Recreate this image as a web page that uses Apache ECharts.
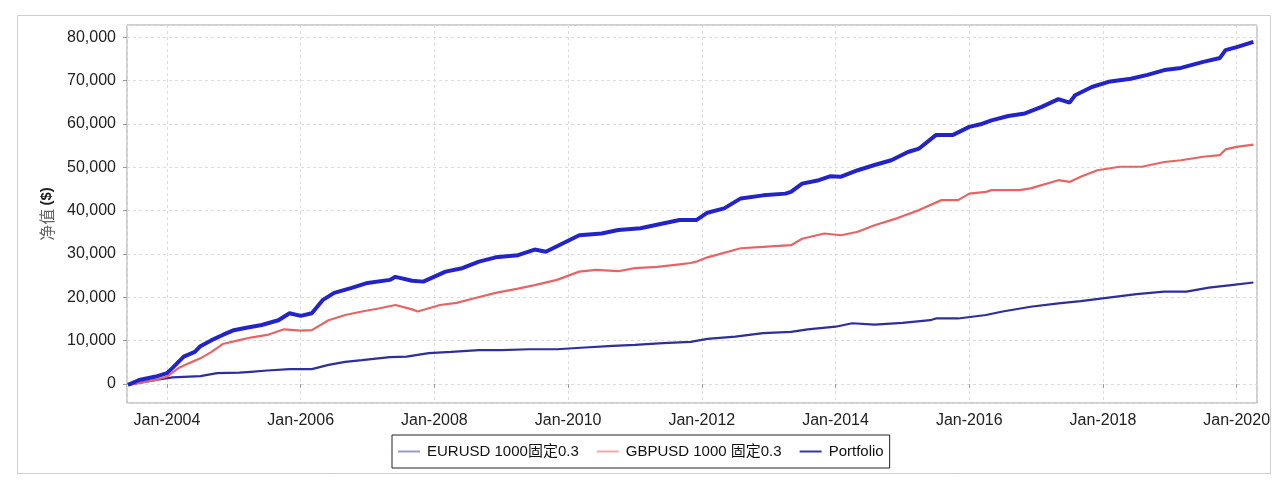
<!DOCTYPE html>
<html>
<head>
<meta charset="utf-8">
<script src="https://cdn.jsdelivr.net/npm/echarts@6/dist/echarts.min.js"></script>
<style>
html,body{margin:0;padding:0;background:#fff;}
#chart{width:1280px;height:494px;}
</style>
</head>
<body>
<div id="chart"></div>
<script>
// ---- data (month, net value $) ----
const seriesNames = ['EURUSD 1000固定0.3', 'GBPUSD 1000 固定0.3', 'Portfolio'];
const yAxisTitleCn = '净值';
const yAxisTitleUnit = '($)';
const xLabelPrefix = 'Jan-';

const eurusd = [
  ['2003-06',-200],['2003-11',900],['2004-02',1500],['2004-07',1800],['2004-10',2500],
  ['2005-02',2600],['2005-04',2800],['2005-07',3100],['2005-11',3400],['2006-03',3400],
  ['2006-06',4400],['2006-09',5100],['2006-12',5500],['2007-05',6200],['2007-08',6300],
  ['2007-10',6700],['2007-12',7100],['2008-04',7400],['2008-09',7800],['2009-01',7800],
  ['2009-06',8000],['2009-11',8000],['2010-04',8400],['2010-09',8800],['2011-01',9000],
  ['2011-06',9400],['2011-11',9700],['2012-02',10400],['2012-07',10900],['2012-12',11700],
  ['2013-05',12000],['2013-08',12600],['2014-01',13200],['2014-04',14000],['2014-08',13700],
  ['2015-01',14100],['2015-06',14700],['2015-07',15100],['2015-11',15100],['2016-04',15900],
  ['2016-07',16700],['2016-12',17800],['2017-05',18600],['2017-09',19100],['2018-02',19900],
  ['2018-07',20700],['2018-12',21300],['2019-04',21300],['2019-08',22200],['2019-12',22800],
  ['2020-04',23400]
];

const gbpusd = [
  ['2003-06',-200],['2003-11',900],['2004-01',1700],['2004-03',3600],['2004-05',4800],
  ['2004-07',5900],['2004-09',7400],['2004-11',9200],['2005-02',10100],['2005-04',10700],
  ['2005-07',11300],['2005-10',12600],['2006-01',12300],['2006-03',12400],['2006-06',14700],
  ['2006-09',15900],['2006-12',16700],['2007-03',17400],['2007-06',18200],['2007-09',17200],
  ['2007-10',16700],['2008-02',18200],['2008-05',18700],['2008-08',19700],['2008-12',21000],
  ['2009-04',22000],['2009-07',22800],['2009-11',24000],['2010-03',25900],['2010-06',26300],
  ['2010-10',26000],['2011-01',26700],['2011-05',27000],['2011-09',27600],['2011-11',27900],
  ['2011-12',28200],['2012-02',29200],['2012-08',31300],['2012-12',31600],['2013-05',32000],
  ['2013-07',33500],['2013-11',34700],['2014-02',34300],['2014-05',35100],['2014-08',36600],
  ['2014-12',38200],['2015-04',40100],['2015-08',42400],['2015-11',42400],['2016-01',43900],
  ['2016-04',44300],['2016-05',44700],['2016-10',44700],['2016-12',45100],['2017-05',47000],
  ['2017-07',46600],['2017-09',47800],['2017-12',49300],['2018-04',50100],['2018-08',50100],
  ['2018-12',51200],['2019-03',51600],['2019-07',52400],['2019-10',52800],['2019-11',54100],
  ['2020-01',54700],['2020-04',55200]
];

const portfolio = [
  ['2003-06',-200],['2003-08',900],['2003-11',1700],['2004-01',2500],['2004-02',3700],
  ['2004-04',6300],['2004-06',7400],['2004-07',8700],['2004-09',10100],['2004-11',11300],
  ['2005-01',12400],['2005-03',12900],['2005-06',13600],['2005-09',14700],['2005-11',16300],
  ['2006-01',15700],['2006-03',16300],['2006-05',19400],['2006-07',21000],['2006-10',22100],
  ['2007-01',23300],['2007-05',24000],['2007-06',24700],['2007-09',23800],['2007-11',23600],
  ['2008-03',25900],['2008-06',26700],['2008-09',28200],['2008-12',29200],['2009-04',29700],
  ['2009-07',31000],['2009-09',30500],['2009-12',32400],['2010-03',34300],['2010-07',34700],
  ['2010-10',35500],['2011-02',35900],['2011-06',37000],['2011-09',37800],['2011-12',37800],
  ['2012-02',39500],['2012-05',40500],['2012-08',42800],['2012-12',43500],['2013-04',43900],
  ['2013-05',44300],['2013-07',46200],['2013-10',47000],['2013-12',47900],['2014-02',47800],
  ['2014-05',49300],['2014-08',50500],['2014-11',51600],['2015-02',53500],['2015-04',54300],
  ['2015-07',57400],['2015-10',57400],['2016-01',59300],['2016-03',59900],['2016-05',60800],
  ['2016-08',61800],['2016-11',62400],['2017-02',63900],['2017-05',65700],['2017-07',64900],
  ['2017-08',66600],['2017-11',68500],['2018-02',69700],['2018-06',70400],['2018-09',71300],
  ['2018-12',72400],['2019-03',72900],['2019-07',74300],['2019-10',75200],['2019-11',77000],
  ['2020-01',77700],['2020-04',78900]
];

// ---- helpers ----
function toYear(s){ const p = s.split('-'); return +p[0] + (+p[1]-1)/12; }
function prep(arr){ return arr.map(d => [toYear(d[0]), d[1]]); }

const chart = echarts.init(document.getElementById('chart'), null, {renderer:'canvas'});
const labelFont = 'Liberation Sans, Arial, sans-serif';

chart.setOption({
  backgroundColor: '#ffffff',
  animation: false,
  graphic: [{
    type: 'rect', left: 15, top: 13, z: -10,
    shape: {width: 1253, height: 458},
    style: {fill: 'none', stroke: '#cfcfcf', lineWidth: 1}
  }],
  grid: {
    left: 127, right: 23, top: 25, bottom: 91,
    show: true, borderColor: '#a0a0a0', borderWidth: 1, backgroundColor: '#fff'
  },
  legend: {
    left: 392, top: 435,
    padding: [9, 6, 9, 6],
    borderColor: '#222', borderWidth: 1,
    itemWidth: 22, itemHeight: 10, itemGap: 18,
    icon: 'path://M0,4 L22,4 L22,6 L0,6 Z',
    textStyle: {fontFamily: 'Liberation Sans, Arial, "Noto Sans CJK SC", sans-serif', fontSize: 15, color: '#111', padding: [0, 0, 0, 2]},
    data: [
      {name: seriesNames[0], itemStyle: {color: '#9a9ac4'}},
      {name: seriesNames[1], itemStyle: {color: '#f2a8a8'}},
      {name: seriesNames[2], itemStyle: {color: '#3535b0'}}
    ]
  },
  xAxis: {
    type: 'value',
    min: 2003.402, max: 2020.304,
    minInterval: 2, maxInterval: 2,
    axisLine: {show: false},
    axisTick: {show: true, length: 4, lineStyle: {color: '#999'}},
    axisLabel: {
      showMinLabel: false, showMaxLabel: false,
      margin: 10, fontSize: 16, color: '#222', fontFamily: labelFont,
      formatter: v => xLabelPrefix + Math.round(v)
    },
    splitLine: {show: true, lineStyle: {color: '#dcdcdc', type: [3, 3]}}
  },
  yAxis: {
    type: 'value',
    min: -4400, max: 82800,
    minInterval: 10000, maxInterval: 10000,
    name: '{cn|' + yAxisTitleCn + '} {un|' + yAxisTitleUnit + '}',
    nameLocation: 'middle',
    nameGap: 72,
    nameTextStyle: {
      rich: {
        cn: {fontFamily: '"Noto Sans CJK SC", sans-serif', fontSize: 16, color: '#666'},
        un: {fontFamily: labelFont, fontSize: 15, fontWeight: 'bold', color: '#222'}
      }
    },
    axisLine: {show: false},
    axisTick: {show: true, length: 4, lineStyle: {color: '#999'}},
    axisLabel: {
      showMinLabel: false, showMaxLabel: false,
      margin: 11, fontSize: 16, color: '#222', fontFamily: labelFont,
      formatter: v => v.toLocaleString('en-US')
    },
    splitLine: {show: true, lineStyle: {color: '#dcdcdc', type: [3, 3]}}
  },
  series: [
    {name: seriesNames[0], type: 'line', data: prep(eurusd), showSymbol: false,
     lineStyle: {color: '#2e2e9c', width: 2.2}, itemStyle: {color: '#2e2e9c'}},
    {name: seriesNames[1], type: 'line', data: prep(gbpusd), showSymbol: false,
     lineStyle: {color: '#e86464', width: 2.2}, itemStyle: {color: '#e86464'}},
    {name: seriesNames[2], type: 'line', data: prep(portfolio), showSymbol: false,
     lineStyle: {color: '#2323cc', width: 4}, itemStyle: {color: '#2323cc'}}
  ]
});
</script>
</body>
</html>
